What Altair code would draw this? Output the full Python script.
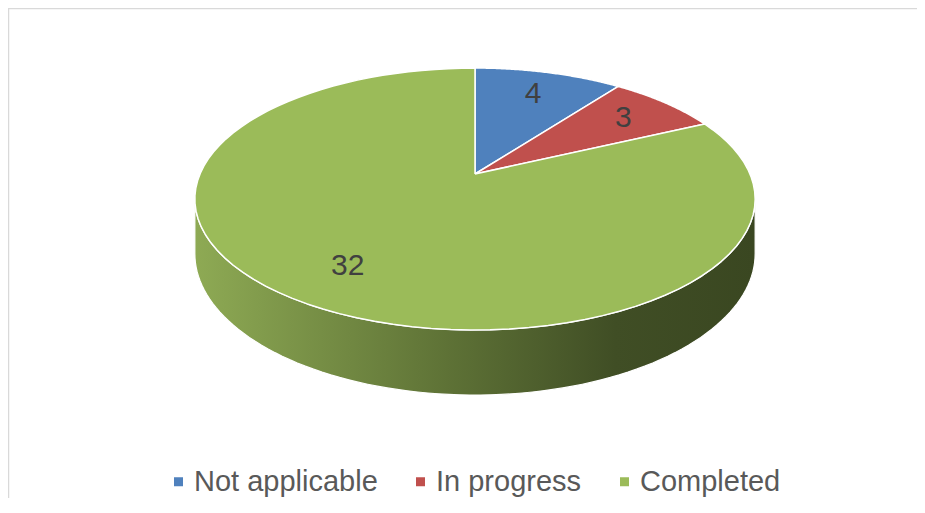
import altair as alt
import pandas as pd

# ---- data ----
categories = ["Not applicable", "In progress", "Completed"]
values = [4, 3, 32]
colors = ["#4F81BD", "#C0504D", "#9BBB59"]

# ---- geometry / style of the tilted (perspective) pie ----
W, H = 909, 490
CX, CY = 467, 166          # pie vertex in plot coordinates
A, B, C, D = 126.2, 275.0, 0.191, 52.6   # vertical radius, horizontal radius, perspective, depth
LR = 0.76                  # label radius fraction
N = 90                     # points per arc

df = pd.DataFrame({"category": categories, "value": values,
                   "rank": list(range(len(categories)))})

xs = alt.Scale(domain=[0, W], nice=False, zero=False)
ys = alt.Scale(domain=[0, H], nice=False, zero=False, reverse=True)

base = alt.Chart(df).transform_joinaggregate(
    total="sum(value)"
).transform_window(
    cum="sum(value)", sort=[alt.SortField("rank")], frame=[None, 0]
).transform_calculate(
    a0="(datum.cum - datum.value) / datum.total * 2 * PI",
    a1="datum.cum / datum.total * 2 * PI",
)

den = f"(1 - {C} * datum.v)"

# side wall (visible near half of the cylinder)
side_grad = alt.LinearGradient(
    gradient="linear",
    stops=[
        alt.GradientStop(offset=0, color="#8eaa54"),
        alt.GradientStop(offset=0.45, color="#5e7236"),
        alt.GradientStop(offset=0.75, color="#404e25"),
        alt.GradientStop(offset=1, color="#3a4721"),
    ],
    x1=0, x2=1, y1=0, y2=0,
)

side = base.transform_calculate(
    s0=f"max(datum.a0, acos(-{C}))",
    s1=f"min(datum.a1, 2 * PI - acos(-{C}))",
).transform_filter(
    "datum.s1 > datum.s0"
).transform_calculate(
    k=f"sequence(0, {N})"
).transform_flatten(["k"]).transform_calculate(
    al=f"datum.s0 + (datum.s1 - datum.s0) * datum.k / {N - 1}"
).transform_calculate(
    u="sin(datum.al)", v="-cos(datum.al)"
).transform_calculate(
    px=f"{CX} + {B} * datum.u / {den}",
    ytop=f"{CY} + {A} * datum.v / {den}",
    ybot=f"{CY} + ({A} * datum.v + {D}) / {den}",
).mark_area(
    fill=side_grad, stroke="white", strokeWidth=1.2
).encode(
    x=alt.X("px:Q", scale=xs, axis=None),
    y=alt.Y("ytop:Q", scale=ys, axis=None),
    y2="ybot:Q",
    detail="category:N",
)

# top face slices
top = base.transform_calculate(
    k=f"sequence(0, {N + 2})"
).transform_flatten(["k"]).transform_calculate(
    r=f"(datum.k == 0 || datum.k == {N + 1}) ? 0 : 1",
    al=f"datum.a0 + (datum.a1 - datum.a0) * clamp((datum.k - 1) / {N - 1}, 0, 1)",
).transform_calculate(
    u="datum.r * sin(datum.al)", v="-datum.r * cos(datum.al)"
).transform_calculate(
    px=f"{CX} + {B} * datum.u / {den}",
    py=f"{CY} + {A} * datum.v / {den}",
).mark_line(
    stroke="white", strokeWidth=1.5, strokeJoin="round"
).encode(
    x=alt.X("px:Q", scale=xs, axis=None),
    y=alt.Y("py:Q", scale=ys, axis=None),
    fill=alt.Fill(
        "category:N",
        scale=alt.Scale(domain=categories, range=colors),
        legend=alt.Legend(
            title=None, orient="none", legendX=156, legendY=459,
            direction="horizontal", symbolType="square", symbolSize=81,
            symbolStrokeWidth=0, symbolOpacity=1, labelLimit=0,
            labelFont="Liberation Sans", labelFontSize=29,
            labelColor="#595959", labelOffset=1, columnPadding=28,
        ),
    ),
    order=alt.Order("k:Q"),
)

# value labels
labels = base.transform_calculate(
    al="(datum.a0 + datum.a1) / 2"
).transform_calculate(
    u=f"{LR} * sin(datum.al)", v=f"-{LR} * cos(datum.al)"
).transform_calculate(
    px=f"{CX} + {B} * datum.u / {den}",
    py=f"{CY} + {A} * datum.v / {den}",
).mark_text(
    font="Liberation Sans", fontSize=30, color="#404040",
    align="center", baseline="middle",
).encode(
    x=alt.X("px:Q", scale=xs, axis=None),
    y=alt.Y("py:Q", scale=ys, axis=None),
    text="value:Q",
)

frame_df = pd.DataFrame({"f": [0]})
border_top = alt.Chart(frame_df).mark_rule(color="#d9d9d9", strokeWidth=1.5).encode(
    x=alt.value(0), x2=alt.value(W), y=alt.value(0.5)
)
border_left = alt.Chart(frame_df).mark_rule(color="#d9d9d9", strokeWidth=1.5).encode(
    x=alt.value(0.5), y=alt.value(0), y2=alt.value(H)
)

chart = alt.layer(side, top, labels, border_top, border_left).properties(
    width=W, height=H, padding=0, autosize="none"
).configure_view(stroke=None)

chart.save("out.html", embed_options={"renderer": "svg", "actions": False})
